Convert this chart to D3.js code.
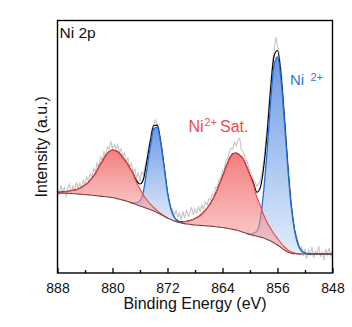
<!DOCTYPE html>
<html>
<head>
<meta charset="utf-8">
<script src="https://cdn.jsdelivr.net/npm/d3@7"></script>
<style>
body { margin: 0; background: #fff; }
text { font-family: "Liberation Sans", Arial, sans-serif; }
</style>
</head>
<body>
<script>
// ----------------------------------- DATA --------------------------------------------
// binding energy grids (eV), high to low as on the axis
var fitEnergy = d3.range(888, 847.75, -0.5)
var rawEnergy = d3.range(888, 847.9, -0.25)

// measured spectrum, one value every 0.25 eV
var rawCounts = [
	84, 78, 88, 80, 86, 76, 85, 89,
	80, 87, 83, 91, 85, 90, 84, 93,
	89, 96, 92, 99, 96, 104, 101, 110,
	105, 116, 113, 122, 116, 126, 124, 131,
	125, 129, 124, 128, 121, 124, 116, 120,
	112, 115, 106, 110, 101, 104, 95, 100,
	92, 101, 98, 108, 115, 126, 134, 145,
	149, 153, 148, 144, 133, 124, 108, 97,
	82, 75, 65, 64, 58, 62, 56, 60,
	54, 61, 55, 63, 57, 60, 66, 58,
	64, 60, 66, 62, 68, 64, 71, 68,
	74, 73, 79, 78, 86, 85, 94, 95,
	103, 104, 113, 114, 121, 125, 124, 131,
	127, 133, 135, 123, 121, 117, 112, 108,
	101, 99, 93, 91, 87, 89, 93, 101,
	112, 130, 146, 168, 190, 208, 222, 236,
	228, 219, 206, 186, 162, 138, 112, 92,
	71, 57, 44, 38, 31, 22, 27, 17,
	24, 14, 23, 18, 26, 15, 22, 19,
	27, 16, 21, 13, 24, 18, 25, 17,
	22]

// Shirley background, one value every 0.5 eV
var background = [
	80, 79.9, 79.8, 79.6, 79.5, 79.3, 79.0, 78.8, 78.5, 78.1,
	77.8, 77.4, 77.0, 76.6, 76.3, 75.9, 75.5, 74.6, 73.8, 72.9,
	72.0, 70.8, 69.5, 68.3, 67.0, 65.8, 64.5, 63.3, 62.0, 60.3,
	58.5, 56.8, 55.0, 53.5, 52.0, 50.8, 50.0, 49.4, 48.9, 48.4,
	48.0, 47.7, 47.5, 47.2, 47.0, 46.6, 46.3, 45.9, 45.5, 44.9,
	44.3, 43.6, 43.0, 41.9, 40.8, 39.6, 38.5, 37.6, 36.8, 35.9,
	35.0, 33.5, 32.0, 30.0, 28.0, 25.5, 23.0, 21.0, 19.7, 19.3,
	19, 19, 19, 19, 19, 19, 19, 19, 19, 19,
	19]

// fitted components above the background, same 0.5 eV grid
var sat2p1 = [
	0.5, 1, 1.5, 2, 3, 3.5, 5, 7, 9.5, 12.5,
	17, 22, 29, 35, 41, 45.5, 47.5, 47.5, 46, 42.5,
	39, 34.5, 29.5, 22, 17, 12, 8.5, 5.5, 3.5, 2,
	1, 0.5, 0, 0, 0, 0, 0, 0, 0, 0,
	0, 0, 0, 0, 0, 0, 0, 0, 0, 0,
	0, 0, 0, 0, 0, 0, 0, 0, 0, 0,
	0, 0, 0, 0, 0, 0, 0, 0, 0, 0,
	0, 0, 0, 0, 0, 0, 0, 0, 0, 0,
	0]

var ni2p1 = [
	0, 0, 0, 0, 0, 0, 0, 0, 0, 0,
	0, 0, 0, 0, 0, 0, 0, 0, 0, 0,
	0, 0, 0.5, 2, 5, 16, 39, 63, 82, 85.5,
	72, 49, 25, 10, 3.5, 1, 0.3, 0, 0, 0,
	0, 0, 0, 0, 0, 0, 0, 0, 0, 0,
	0, 0, 0, 0, 0, 0, 0, 0, 0, 0,
	0, 0, 0, 0, 0, 0, 0, 0, 0, 0,
	0, 0, 0, 0, 0, 0, 0, 0, 0, 0,
	0]

var sat2p3 = [
	0, 0, 0, 0, 0, 0, 0, 0, 0, 0,
	0, 0, 0, 0, 0, 0, 0, 0, 0, 0,
	0, 0, 0, 0, 0, 0, 0, 0, 0, 0,
	0, 0, 0, 0, 0, 0.5, 1, 2, 3, 4.5,
	6.5, 8.5, 11.5, 15.5, 20, 26, 33, 42, 51, 61,
	70, 75.5, 77, 76, 73.5, 67, 59, 50.5, 39, 31.5,
	23, 17, 12.5, 9, 6.5, 4.5, 3, 2, 1.2, 0.7,
	0.3, 0, 0, 0, 0, 0, 0, 0, 0, 0,
	0]

var ni2p3 = [
	0, 0, 0, 0, 0, 0, 0, 0, 0, 0,
	0, 0, 0, 0, 0, 0, 0, 0, 0, 0,
	0, 0, 0, 0, 0, 0, 0, 0, 0, 0,
	0, 0, 0, 0, 0, 0, 0, 0, 0, 0,
	0, 0, 0, 0, 0, 0, 0, 0, 0, 0,
	0, 0, 0, 0, 0, 0, 0.5, 2, 5, 18,
	48, 90, 139.5, 178, 188, 169, 129, 83.5, 46, 22,
	9, 3, 0.8, 0.2, 0, 0, 0, 0, 0, 0,
	0]

var majorTicks = [888, 880, 872, 864, 856, 848]
var minorTicks = [884, 876, 868, 860, 852]

// ----------------------------------- SVG and SCALES --------------------------------------------
var width = 352
var height = 327
var pLeft = 57.5, pRight = 332.5, pTop = 20.5, pBottom = 273

var svg = d3.select('body')
			.append('svg')
			.attr('width', width)
			.attr('height', height)

svg.append('rect')
	.attr('width', '100%')
	.attr('height', '100%')
	.attr('fill', 'white')

var x = d3.scaleLinear().domain([888, 848]).range([pLeft, pRight])
var y = d3.scaleLinear().domain([0, 252.5]).range([pBottom, pTop])

var defs = svg.append('defs')

defs.append('clipPath')
	.attr('id', 'plotClip')
	.append('rect')
	.attr('x', pLeft)
	.attr('y', pTop)
	.attr('width', pRight - pLeft)
	.attr('height', pBottom - pTop)

function gradient(id, c0, c1, op) {
	var g = defs.append('linearGradient')
		.attr('id', id)
		.attr('x1', 0).attr('y1', 0)
		.attr('x2', 0).attr('y2', 1)
	g.append('stop').attr('offset', 0).attr('stop-color', c0).attr('stop-opacity', op)
	g.append('stop').attr('offset', 1).attr('stop-color', c1).attr('stop-opacity', op)
}
gradient('redFill', '#ea2a2a', '#fab8b8', 0.6)
gradient('blueFill', '#6d9ae6', '#e2ecfb', 1)

// ----------------------------------- ROWS --------------------------------------------
var fitRows = fitEnergy.map(function(e, i) {
	var r = {e: e, bg: background[i], sat1: sat2p1[i], ni1: ni2p1[i], sat2: sat2p3[i], ni2: ni2p3[i]}
	r.env = r.bg + r.sat1 + r.ni1 + r.sat2 + r.ni2
	return r
})

var rawRows = rawEnergy.map(function(e, i) { return {e: e, v: rawCounts[i]} })

// keep only the part of the grid where a component lives
function part(key) {
	return fitRows.filter(function(d, i) {
		var prev = fitRows[i - 1], next = fitRows[i + 1]
		return d[key] > 0 || (prev && prev[key] > 0) || (next && next[key] > 0)
	})
}

var curve = d3.curveMonotoneX

var plot = svg.append('g').attr('clip-path', 'url(#plotClip)')

// raw data
plot.append('path')
	.datum(rawRows)
	.attr('fill', 'none')
	.attr('stroke', '#c6c6c6')
	.attr('stroke-width', 1.1)
	.attr('d', d3.line().x(function(d){ return x(d.e) }).y(function(d){ return y(d.v) }))

// envelope
plot.append('path')
	.datum(fitRows)
	.attr('fill', 'none')
	.attr('stroke', 'black')
	.attr('stroke-width', 1.2)
	.attr('d', d3.line().curve(curve).x(function(d){ return x(d.e) }).y(function(d){ return y(d.env) }))

function component(key, fill, stroke, sw) {
	var pts = part(key)
	plot.append('path')
		.datum(pts)
		.attr('fill', 'url(#' + fill + ')')
		.attr('d', d3.area().curve(curve)
			.x(function(d){ return x(d.e) })
			.y0(function(d){ return y(d.bg) })
			.y1(function(d){ return y(d.bg + d[key]) }))
	plot.append('path')
		.datum(pts)
		.attr('fill', 'none')
		.attr('stroke', stroke)
		.attr('stroke-width', sw)
		.attr('d', d3.line().curve(curve)
			.x(function(d){ return x(d.e) })
			.y(function(d){ return y(d.bg + d[key]) }))
}

component('ni1', 'blueFill', '#1f6fdc', 1.3)
component('ni2', 'blueFill', '#1f6fdc', 1.3)
component('sat1', 'redFill', '#ec4646', 1.1)
component('sat2', 'redFill', '#ec4646', 1.1)

// background
plot.append('path')
	.datum(fitRows)
	.attr('fill', 'none')
	.attr('stroke', '#7d3f3f')
	.attr('stroke-width', 1.1)
	.attr('d', d3.line().curve(curve).x(function(d){ return x(d.e) }).y(function(d){ return y(d.bg) }))

// ----------------------------------- AXES --------------------------------------------
var xAxis = svg.append('g')
	.attr('transform', 'translate(0,' + pBottom + ')')
	.call(d3.axisBottom(x).tickValues(majorTicks).tickSize(-5).tickPadding(10.4).tickFormat(d3.format('d')))
xAxis.select('.domain').remove()
xAxis.selectAll('line').attr('stroke-width', 1.3)
xAxis.selectAll('text')
	.attr('font-size', 14)
	.attr('font-family', '"Liberation Sans", Arial, sans-serif')
	.attr('fill', '#111')

var xMinor = svg.append('g')
	.attr('transform', 'translate(0,' + pBottom + ')')
	.call(d3.axisBottom(x).tickValues(minorTicks).tickSize(-3).tickFormat(''))
xMinor.select('.domain').remove()
xMinor.selectAll('line').attr('stroke-width', 1.3)

svg.append('rect')
	.attr('x', pLeft)
	.attr('y', pTop)
	.attr('width', pRight - pLeft)
	.attr('height', pBottom - pTop)
	.attr('fill', 'none')
	.attr('stroke', 'black')
	.attr('stroke-width', 1.4)

// ----------------------------------- LABELS --------------------------------------------
svg.append('text')
	.attr('x', (pLeft + pRight) / 2)
	.attr('y', 309)
	.attr('text-anchor', 'middle')
	.attr('font-size', 16)
	.attr('fill', '#111')
	.text('Binding Energy (eV)')

svg.append('text')
	.attr('transform', 'translate(47,' + (pTop + pBottom) / 2 + ') rotate(-90)')
	.attr('text-anchor', 'middle')
	.attr('font-size', 16)
	.attr('fill', '#111')
	.text('Intensity (a.u.)')

svg.append('text')
	.attr('x', 59.5)
	.attr('y', 37.5)
	.attr('font-size', 15.5)
	.attr('fill', '#111')
	.text('Ni 2p')

var satLabel = svg.append('text')
	.attr('y', 131.7)
	.attr('fill', '#ee4c4c')
	.attr('font-size', 16)
satLabel.append('tspan').attr('x', 188.5).text('Ni')
satLabel.append('tspan').attr('x', 204.5).attr('dy', -5.5).attr('font-size', 11).text('2+')
satLabel.append('tspan').attr('x', 220).attr('dy', 5.5).text('Sat.')

var niLabel = svg.append('text')
	.attr('y', 85)
	.attr('fill', '#2f78dc')
	.attr('font-size', 15)
niLabel.append('tspan').attr('x', 290).text('Ni')
niLabel.append('tspan').attr('x', 310.5).attr('dy', -4.4).attr('font-size', 11).text('2+')
</script>
</body>
</html>
